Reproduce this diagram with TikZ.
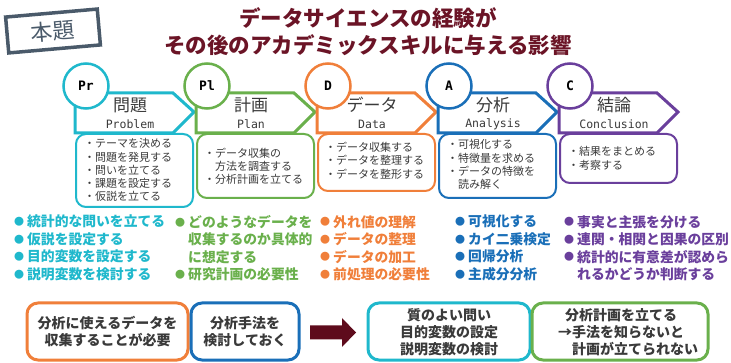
\documentclass[tikz,border=0pt]{standalone}
\usepackage{fontspec}
\setmainfont{Noto Sans CJK JP}
\newfontfamily\monofont{DejaVu Sans Mono}
\definecolor{cyanC}{HTML}{1FB8CC}
\definecolor{greenC}{HTML}{6AB04C}
\definecolor{orangeC}{HTML}{F07F3A}
\definecolor{blueC}{HTML}{1A6FB8}
\definecolor{purpleC}{HTML}{6A3F9C}
\definecolor{maroonC}{HTML}{6B1426}
\definecolor{slateC}{HTML}{4A5A6A}
\definecolor{arrowC}{HTML}{5E0B1C}
\definecolor{txtC}{HTML}{3A3A3A}
\newcommand\fs[2]{\fontsize{#1}{#2}\selectfont}
\newcommand\bul{\makebox[13pt][l]{\raisebox{1.3pt}{\fs{10}{10}●}}}
\newcommand\ind{\hspace*{13pt}}
\begin{document}
\begin{tikzpicture}[x=1pt,y=-1pt,
  pent/.style={line width=3pt, fill=white, line join=miter},
  circ/.style={circle, line width=2.5pt, fill=white, minimum size=45pt, inner sep=0pt, font=\monofont\bfseries\fs{13}{13}, text=black},
  descbox/.style={line width=2pt, rounded corners=10pt, fill=white},
  desctext/.style={anchor=north west, inner sep=0pt, align=left, text=txtC, font=\fs{11}{13.3}},
  bigbox/.style={line width=3pt, rounded corners=11pt},
  bigtext/.style={inner sep=0pt, align=center, text=txtC, font=\bfseries\fs{14}{17}},
  list/.style={anchor=north west, inner sep=0pt, align=left, font=\bfseries\fs{13.8}{17.5}},
]
\useasboundingbox (0,0) rectangle (731,363);

% tag and title
\node[draw=slateC, line width=3.5pt, rotate=5, minimum width=92pt, minimum height=36pt, text=slateC, font=\fs{22}{22}] (hondai) at (53,31) {本題};
\node[font=\bfseries\fs{21.5}{27}, text=maroonC, align=center] (title) at (368,31.5) {データサイエンスの経験が\\その後のアカデミックスキルに与える影響};

% process steps
\foreach \l/\c/\k/\j/\e/\n/\b in {75/cyanC/Pr/問題/Problem/pr/207, 196/greenC/Pl/計画/Plan/pl/198, 317/orangeC/D/データ/Data/da/191, 438/blueC/A/分析/Analysis/an/198, 559/purpleC/C/結論/Conclusion/co/183}{
  \draw[descbox, draw=\c] (\l+1,134) rectangle (\l+118,\b);
  \draw[pent, draw=\c] (\l,93) -- (\l+98,93) -- (\l+119,112) -- (\l+98,133) -- (\l,133) -- cycle;
  \node[text=txtC, font=\fs{17}{17}] (\n-jp) at (\l+55,105) {\j};
  \node[text=txtC, font=\monofont\fs{11.5}{11.5}] (\n-en) at (\l+55,124) {\e};
  \node[circ, draw=\c] (\n-c) at (\l+11,86) {\k};
}

% descriptions
\node[desctext, font=\fs{11}{13.25}] (pr-t) at (84,138.5) {・テーマを決める\\・問題を発見する\\・問いを立てる\\・課題を設定する\\・仮説を立てる};
\node[desctext, font=\fs{11}{13}] (pl-t) at (204,147.5) {・データ収集の\\　方法を調査する\\・分析計画を立てる};
\node[desctext, font=\fs{11}{13.8}] (da-t) at (325,141.5) {・データ収集する\\・データを整理する\\・データを整形する};
\node[desctext] (an-t) at (447,139.5) {・可視化する\\・特徴量を求める\\・データの特徴を\\　読み解く};
\node[desctext] (co-t) at (568,146.5) {・結果をまとめる\\・考察する};

% colored lists
\node[list, text=cyanC] (l1) at (14,215) {\bul 統計的な問いを立てる\\\bul 仮説を設定する\\\bul 目的変数を設定する\\\bul 説明変数を検討する};
\node[list, text=greenC] (l2) at (175,215) {\bul どのようなデータを\\\ind 収集するのか具体的\\\ind に想定する\\\bul 研究計画の必要性};
\node[list, text=orangeC] (l3) at (320,215) {\bul 外れ値の理解\\\bul データの整理\\\bul データの加工\\\bul 前処理の必要性};
\node[list, text=blueC] (l4) at (455,215) {\bul 可視化する\\\bul カイ二乗検定\\\bul 回帰分析\\\bul 主成分分析};
\node[list, text=purpleC] (l5) at (564,215) {\bul 事実と主張を分ける\\\bul 連関・相関と因果の区別\\\bul 統計的に有意差が認めら\\\ind れるかどうか判断する};

% bottom boxes
\draw[bigbox, draw=orangeC] (27,303) rectangle (188,360);
\node[bigtext] (b1) at (107.5,331.5) {分析に使えるデータを\\収集することが必要};
\draw[bigbox, draw=blueC] (191,303) rectangle (299,360);
\node[bigtext] (b2) at (245,331.5) {分析手法を\\検討しておく};
\fill[arrowC] (310,325.5) -- (342,325.5) -- (342,318) -- (356,332.5) -- (342,347) -- (342,339.5) -- (310,339.5) -- cycle;
\draw[bigbox, draw=cyanC] (368,303) rectangle (530,360);
\node[bigtext] (b3) at (449,332) {質のよい問い\\目的変数の設定\\説明変数の検討};
\draw[bigbox, draw=greenC] (532,303) rectangle (708,360);
\node[bigtext, align=left, anchor=west] (b4) at (558,332) {\hspace*{7pt}分析計画を立てる\\→手法を知らないと\\　計画が立てられない};
\end{tikzpicture}
\end{document}
